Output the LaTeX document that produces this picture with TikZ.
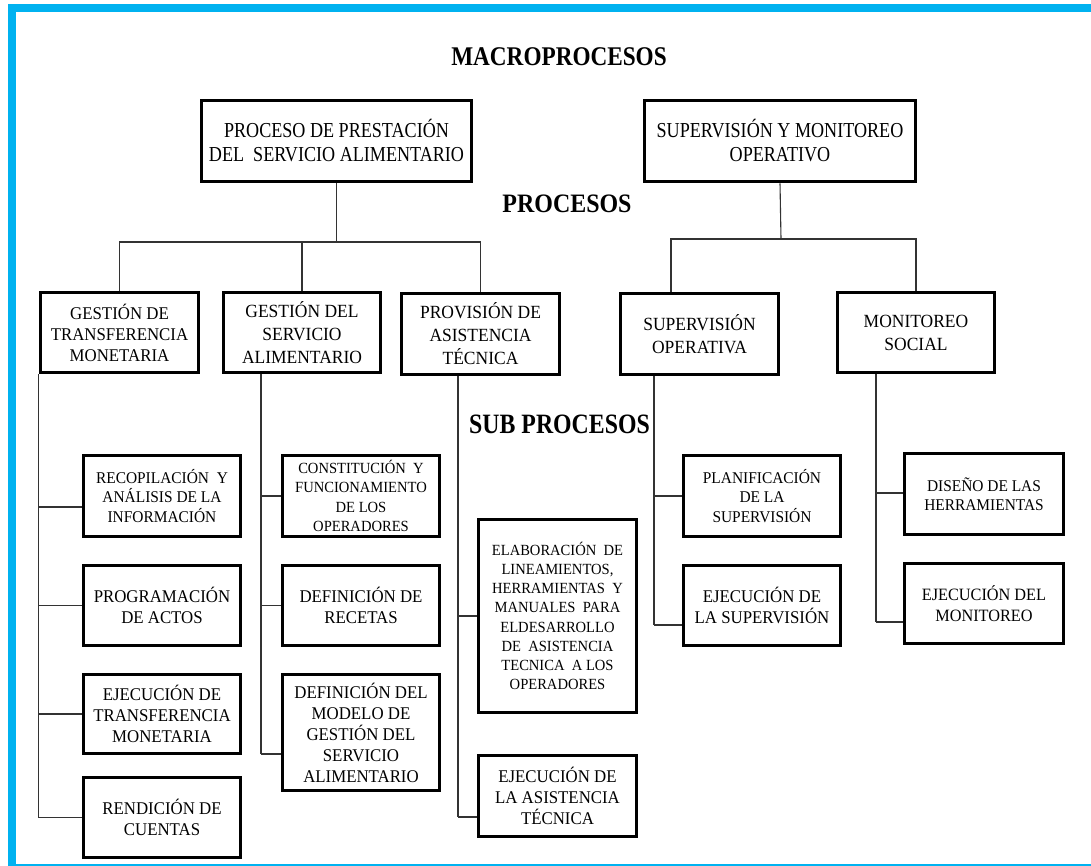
\documentclass[tikz,border=0pt]{standalone}
\usepackage{fontspec}
\setmainfont{Liberation Serif}
\newfontfamily\topf{Liberation Serif}[FakeStretch=0.85]
\newfontfamily\boxf{Liberation Serif}[FakeStretch=0.94]
\usepackage{graphicx}
\definecolor{frameblue}{HTML}{00B2F0}
\definecolor{lin}{HTML}{333333}
\begin{document}
\begin{tikzpicture}[x=1pt,y=-1pt,
  bx/.style={draw=black,line width=3.2pt,align=center,inner sep=0pt,fill=white,text=black},
  lk/.style={draw=lin,line width=1.1pt},
  hd/.style={inner sep=0pt,text=black},
  fA/.style={font=\topf\fontsize{21.3}{24}\selectfont},
  fB/.style={font=\boxf\fontsize{18.6}{23}\selectfont},
  fC/.style={font=\boxf\fontsize{17.9}{21}\selectfont},
  fD/.style={font=\boxf\fontsize{16.4}{19.5}\selectfont},
  fE/.style={font=\boxf\fontsize{15.5}{19.2}\selectfont}]
\useasboundingbox (0,0) rectangle (1091,866);
\fill[white] (0,0) rectangle (1091,866);
% frame
\fill[frameblue] (8,4) rectangle (1091,12);
\fill[frameblue] (8,4) rectangle (16,866);
\fill[frameblue] (8,863.5) rectangle (1091,866);

% headings
\node[hd,font=\fontsize{27}{30}\selectfont\bfseries] (mac) at (559,57) {\scalebox{0.86}[1]{MACROPROCESOS}};
\node[hd,font=\fontsize{26.6}{28}\selectfont\bfseries] (pro) at (567,204) {\scalebox{0.9}[1]{PROCESOS}};
\node[hd,font=\fontsize{28}{30}\selectfont\bfseries] (sub) at (559.5,424.5) {\scalebox{0.85}[1]{SUB PROCESOS}};

% macro boxes
\node[bx,fA,line width=3.6pt,minimum width=270,minimum height=81] (A) at (336.5,141) {PROCESO DE PRESTACIÓN\\DEL\ \ SERVICIO ALIMENTARIO};
\node[bx,fA,line width=3.6pt,minimum width=271,minimum height=81] (B) at (780,141) {SUPERVISIÓN Y MONITOREO\\OPERATIVO};

% process boxes
\node[bx,fC,minimum width=158,minimum height=80] (C1) at (119.5,332.5) {GESTIÓN DE\\TRANSFERENCIA\\MONETARIA};
\node[bx,fB,minimum width=157,minimum height=80] (C2) at (302,332.5) {GESTIÓN DEL\\SERVICIO\\ALIMENTARIO};
\node[bx,fB,minimum width=158,minimum height=81] (C3) at (480.5,334) {PROVISIÓN DE\\ASISTENCIA\\TÉCNICA};
\node[bx,fB,minimum width=158,minimum height=81] (C4) at (699.5,334) {SUPERVISIÓN\\OPERATIVA};
\node[bx,fB,minimum width=157,minimum height=80] (C5) at (916,332.5) {MONITOREO\\SOCIAL};

% sub-process boxes
\node[bx,fD,minimum width=157,minimum height=81] (S11) at (162,496) {RECOPILACIÓN\ \ Y\\ANÁLISIS DE LA\\INFORMACIÓN};
\node[bx,fC,minimum width=157,minimum height=80] (S12) at (162,605.5) {PROGRAMACIÓN\\DE ACTOS};
\node[bx,fC,minimum width=157,minimum height=79] (S13) at (162,714) {EJECUCIÓN DE\\TRANSFERENCIA\\MONETARIA};
\node[bx,fC,minimum width=157,minimum height=80] (S14) at (162,817.5) {RENDICIÓN DE\\CUENTAS};

\node[bx,fE,minimum width=157,minimum height=81] (S21) at (361,496) {CONSTITUCIÓN\ \ Y\\FUNCIONAMIENTO\\DE LOS\\OPERADORES};
\node[bx,fC,minimum width=157,minimum height=80] (S22) at (361,605.5) {DEFINICIÓN DE\\RECETAS};
\node[bx,fC,minimum width=157,minimum height=116] (S23) at (361,732.5) {DEFINICIÓN DEL\\MODELO DE\\GESTIÓN DEL\\SERVICIO\\ALIMENTARIO};

\node[bx,fE,minimum width=158,minimum height=193] (S31) at (557.5,616) {ELABORACIÓN\ \ DE\\LINEAMIENTOS,\\HERRAMIENTAS\ \ Y\\MANUALES\ \ PARA\\ELDESARROLLO\\DE\ \ ASISTENCIA\\TECNICA\ \ A LOS\\OPERADORES};
\node[bx,fC,minimum width=158,minimum height=81] (S32) at (557.5,796) {EJECUCIÓN DE\\LA ASISTENCIA\\TÉCNICA};

\node[bx,fD,minimum width=157,minimum height=81] (S41) at (762,496) {PLANIFICACIÓN\\DE LA\\SUPERVISIÓN};
\node[bx,fC,minimum width=157,minimum height=80] (S42) at (762,605.5) {EJECUCIÓN DE\\LA SUPERVISIÓN};

\node[bx,fD,minimum width=159,minimum height=81] (S51) at (984,494) {DISEÑO DE LAS\\HERRAMIENTAS};
\node[bx,font=\boxf\fontsize{17.3}{21}\selectfont,minimum width=159,minimum height=80] (S52) at (984,603.5) {EJECUCIÓN DEL\\MONITOREO};

% top-level tree connectors
\coordinate (barL) at (336.5,242);
\coordinate (barR) at (781,239);
\coordinate (c4top) at ([xshift=-28.5pt]C4.north);
\draw[lk] (A.south) -- (barL);
\draw[lk] (C1.north) |- (barL);
\draw[lk] (C2.north) -- (C2.north |- barL);
\draw[lk] (C3.north) |- (barL);
\draw[lk] (B.south) -- (barR);
\draw[lk] (c4top) |- (barR);
\draw[lk] (C5.north) |- (barR);

% trunks
\coordinate (t1) at (C1.south west);
\coordinate (t2) at ([xshift=-41pt]C2.south);
\coordinate (t3) at ([xshift=-22.5pt]C3.south);
\coordinate (t4) at ([xshift=-45.5pt]C4.south);
\coordinate (t5) at ([xshift=-40pt]C5.south);
% branch points on boxes
\coordinate (p11) at ([yshift=-11pt]S11.west);
\coordinate (p23) at ([yshift=-21.5pt]S23.west);
\coordinate (p32) at ([yshift=-21pt]S32.west);
\coordinate (p42) at ([yshift=-19.5pt]S42.west);
\coordinate (p51) at ([yshift=1pt]S51.west);
\coordinate (p52) at ([yshift=-18.5pt]S52.west);

\draw[lk] (t1) -- (t1 |- S14.west);
\draw[lk] (p11) -- (t1 |- p11);
\draw[lk] (S12.west) -- (t1 |- S12.west);
\draw[lk] (S13.west) -- (t1 |- S13.west);
\draw[lk] (S14.west) -- (t1 |- S14.west);

\draw[lk] (t2) -- (t2 |- p23);
\draw[lk] (S21.west) -- (t2 |- S21.west);
\draw[lk] (S22.west) -- (t2 |- S22.west);
\draw[lk] (p23) -- (t2 |- p23);

\draw[lk] (t3) -- (t3 |- p32);
\draw[lk] (S31.west) -- (t3 |- S31.west);
\draw[lk] (p32) -- (t3 |- p32);

\draw[lk] (t4) -- (t4 |- p42);
\draw[lk] (S41.west) -- (t4 |- S41.west);
\draw[lk] (p42) -- (t4 |- p42);

\draw[lk] (t5) -- (t5 |- p52);
\draw[lk] (p51) -- (t5 |- p51);
\draw[lk] (p52) -- (t5 |- p52);
\end{tikzpicture}
\end{document}
